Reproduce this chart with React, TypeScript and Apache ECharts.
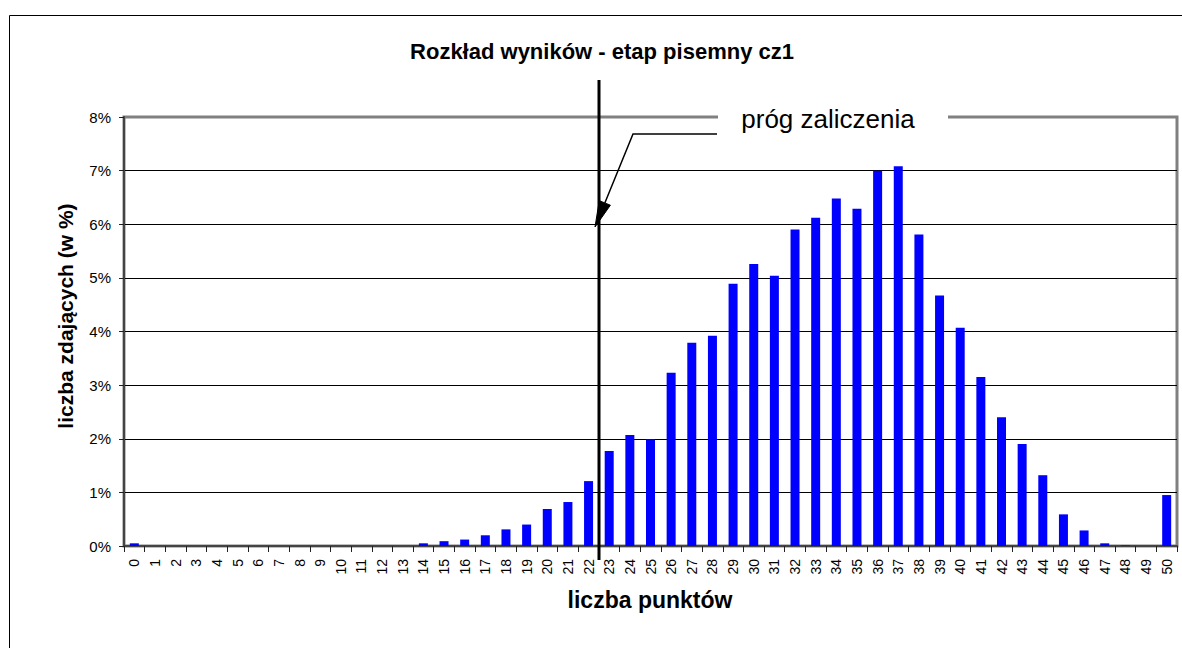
import React, { useEffect, useRef } from "react";
import * as echarts from "echarts";

const points: string[] = Array.from({ length: 51 }, (_, i) => String(i));
const percents: number[] = [
  0.05, 0, 0, 0, 0, 0, 0, 0, 0, 0,
  0, 0, 0, 0, 0.05, 0.09, 0.12, 0.2, 0.31, 0.4,
  0.69, 0.82, 1.21, 1.77, 2.07, 1.99, 3.23, 3.79, 3.92, 4.89,
  5.26, 5.04, 5.9, 6.12, 6.48, 6.29, 7.0, 7.08, 5.81, 4.67,
  4.07, 3.15, 2.4, 1.9, 1.32, 0.59, 0.29, 0.05, 0.01, 0,
  0.95,
];
const yTicks = { min: 0, max: 8, interval: 1 };
const thresholdAfter = "22";
const titleText = "Rozkład wyników - etap pisemny cz1";
const yName = "liczba zdających (w %)";
const xName = "liczba punktów";
const calloutText = "próg zaliczenia";

const FONT = "'Liberation Sans', Arial, Helvetica, sans-serif";

export default function App() {
  const ref = useRef<HTMLDivElement>(null);
  useEffect(() => {
    if (!ref.current) return;
    const chart = echarts.init(ref.current, undefined, { renderer: "svg" });
    chart.setOption({
      animation: false,
      backgroundColor: "#fff",
      grid: {
        left: 124,
        top: 117,
        width: 1053,
        height: 429,
        show: true,
        borderColor: "#808080",
        borderWidth: 3,
        backgroundColor: "transparent",
      },
      xAxis: {
        type: "category",
        data: points,
        boundaryGap: true,
        axisLine: { lineStyle: { color: "#444", width: 2 } },
        axisTick: { show: true, length: 6, lineStyle: { color: "#222" } },
        axisLabel: {
          interval: 0,
          rotate: 90,
          fontSize: 14,
          margin: 13,
          color: "#000",
          fontFamily: FONT,
        },
      },
      yAxis: {
        type: "value",
        min: yTicks.min,
        max: yTicks.max,
        interval: yTicks.interval,
        axisLine: { show: true, lineStyle: { color: "#444", width: 2 } },
        axisTick: { show: true, length: 5, lineStyle: { color: "#222" } },
        axisLabel: {
          formatter: "{value}%",
          fontSize: 15,
          margin: 13,
          color: "#000",
          fontFamily: FONT,
        },
        splitLine: {
          show: true,
          showMaxLine: false,
          lineStyle: { color: "#000", width: 1 },
        },
      },
      series: [
        {
          type: "bar",
          data: percents,
          barWidth: 9,
          itemStyle: { color: "#0000ff" },
        },
      ],
    });

    const idx = points.indexOf(thresholdAfter);
    const xa = chart.convertToPixel({ xAxisIndex: 0 }, idx) as number;
    const xb = chart.convertToPixel({ xAxisIndex: 0 }, idx + 1) as number;
    const tx = Math.round((xa + xb) / 2);

    const tip = [tx - 4, 227];
    const start = [tx + 34, 134];
    const dx = tip[0] - start[0];
    const dy = tip[1] - start[1];
    const len = Math.sqrt(dx * dx + dy * dy);
    const ux = dx / len;
    const uy = dy / len;
    const headLen = 26;
    const headHalf = 6;
    const bx = tip[0] - headLen * ux;
    const by = tip[1] - headLen * uy;
    const nx = -uy;
    const ny = ux;

    chart.setOption({
      graphic: [
        {
          type: "rect",
          silent: true,
          z: 1,
          shape: { x: 9.5, y: 15.5, width: 1300, height: 800 },
          style: { fill: "none", stroke: "#000", lineWidth: 1 },
        },
        {
          type: "text",
          silent: true,
          z: 10,
          x: 602,
          y: 51,
          style: {
            text: titleText,
            fill: "#000",
            font: `bold 22px ${FONT}`,
            align: "center",
            verticalAlign: "middle",
            textAlign: "center",
            textVerticalAlign: "middle",
          },
        },
        {
          type: "text",
          silent: true,
          z: 10,
          x: 65,
          y: 316,
          rotation: Math.PI / 2,
          style: {
            text: yName,
            fill: "#000",
            font: `bold 21px ${FONT}`,
            align: "center",
            verticalAlign: "middle",
            textAlign: "center",
            textVerticalAlign: "middle",
          },
        },
        {
          type: "text",
          silent: true,
          z: 10,
          x: 650,
          y: 600,
          style: {
            text: xName,
            fill: "#000",
            font: `bold 23px ${FONT}`,
            align: "center",
            verticalAlign: "middle",
            textAlign: "center",
            textVerticalAlign: "middle",
          },
        },
        {
          type: "line",
          silent: true,
          z: 50,
          shape: { x1: tx, y1: 80, x2: tx, y2: 560 },
          style: { stroke: "#000", lineWidth: 3 },
        },
        {
          type: "rect",
          silent: true,
          z: 60,
          shape: { x: 718, y: 104, width: 230, height: 28 },
          style: { fill: "#fff", stroke: "none" },
        },
        {
          type: "text",
          silent: true,
          z: 61,
          x: 828,
          y: 119,
          style: {
            text: calloutText,
            fill: "#000",
            font: `26px ${FONT}`,
            align: "center",
            verticalAlign: "middle",
            textAlign: "center",
            textVerticalAlign: "middle",
          },
        },
        {
          type: "polyline",
          silent: true,
          z: 61,
          shape: {
            points: [
              [717, 134],
              [start[0], start[1]],
              [bx, by],
            ],
          },
          style: { stroke: "#000", lineWidth: 1.5, fill: "none" },
        },
        {
          type: "polygon",
          silent: true,
          z: 61,
          shape: {
            points: [
              [tip[0], tip[1]],
              [bx + headHalf * nx, by + headHalf * ny],
              [bx - headHalf * nx, by - headHalf * ny],
            ],
          },
          style: { fill: "#000", stroke: "#000", lineWidth: 1 },
        },
      ],
    });

    return () => chart.dispose();
  }, []);
  return (
    <div
      ref={ref}
      style={{ position: "absolute", left: 0, top: 0, width: 1182, height: 648 }}
    />
  );
}
